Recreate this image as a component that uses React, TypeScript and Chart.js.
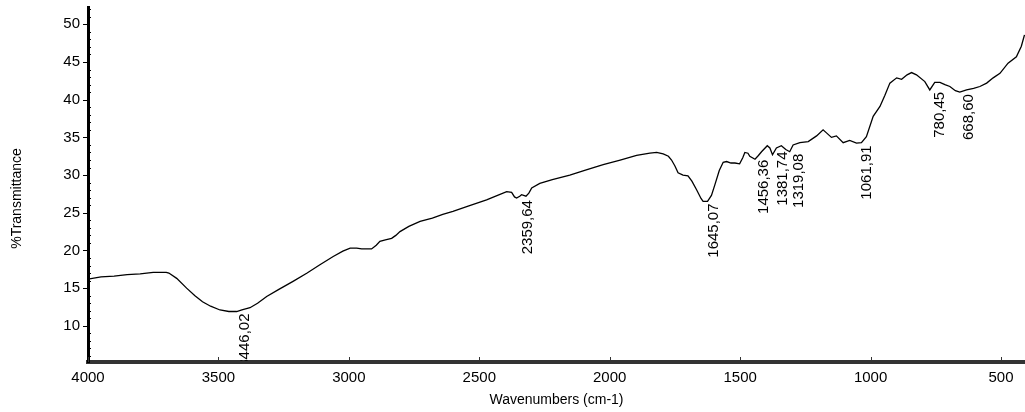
import React, { useEffect, useRef } from 'react';
import { Chart, registerables } from 'chart.js';

Chart.register(...registerables);

const wavenumbers = [
  4000, 3950, 3900, 3850, 3800, 3750, 3720, 3700, 3690, 3660, 3622, 3590, 3561, 3530, 3494, 3460, 3430, 3410,
  3379, 3350, 3315, 3270, 3214, 3160, 3111, 3060, 3023, 2995, 2970, 2951, 2913, 2895, 2881, 2860, 2836, 2820,
  2804, 2770, 2727, 2680, 2640, 2601, 2540, 2472, 2430, 2395, 2376, 2365, 2357, 2345, 2338, 2321, 2310, 2299,
  2268, 2220, 2153, 2090, 2025, 1960, 1897, 1846, 1820, 1795, 1775, 1763, 1750, 1738, 1719, 1700, 1685, 1667,
  1650, 1642, 1625, 1610, 1597, 1580, 1565, 1552, 1535, 1520, 1502, 1490, 1482, 1470, 1463, 1443, 1430, 1418,
  1396, 1386, 1376, 1361, 1342, 1325, 1310, 1297, 1271, 1239, 1207, 1182, 1169, 1150, 1131, 1105, 1080, 1054,
  1035, 1016, 990, 964, 945, 926, 900, 881, 860, 843, 824, 792, 773, 754, 734, 715, 696, 675, 658, 632, 605,
  581, 555, 530, 504, 473, 441, 422, 410,
];

const transmittance = [
  16.2, 16.5, 16.6, 16.8, 16.9, 17.1, 17.1, 17.1, 17.0, 16.3, 15.0, 14.0, 13.2, 12.6, 12.1, 11.9, 11.9, 12.1,
  12.4, 13.0, 13.9, 14.8, 15.9, 17.0, 18.1, 19.2, 19.9, 20.3, 20.3, 20.2, 20.2, 20.7, 21.2, 21.4, 21.6, 22.0,
  22.5, 23.2, 23.85, 24.3, 24.8, 25.2, 25.9, 26.7, 27.3, 27.8, 27.7, 27.1, 26.95, 27.2, 27.4, 27.2, 27.6, 28.3,
  28.9, 29.4, 30.0, 30.7, 31.4, 32.0, 32.6, 32.9, 33.0, 32.8, 32.5, 32.0, 31.2, 30.3, 30.0, 29.9, 29.2, 28.05,
  26.9, 26.5, 26.5, 27.3, 28.7, 30.6, 31.7, 31.8, 31.6, 31.6, 31.5, 32.3, 33.0, 32.9, 32.5, 32.1, 32.6, 33.1,
  33.9, 33.6, 32.7, 33.6, 33.9, 33.4, 33.1, 34.0, 34.3, 34.45, 35.2, 36.0, 35.6, 35.0, 35.2, 34.3, 34.6, 34.25,
  34.3, 35.1, 37.8, 39.1, 40.6, 42.2, 42.9, 42.7, 43.3, 43.6, 43.3, 42.4, 41.3, 42.3, 42.3, 42.0, 41.75, 41.2, 41.0, 41.3, 41.5,
  41.75, 42.2, 42.9, 43.5, 44.85, 45.7, 47.1, 48.6,
];

const xTicks = [4000, 3500, 3000, 2500, 2000, 1500, 1000, 500];
const yTicks = [10, 15, 20, 25, 30, 35, 40, 45, 50];

const peakWavenumbers = [3446.02, 2359.64, 1645.07, 1456.36, 1381.74, 1319.08, 1061.91, 780.45, 668.6];
const peakTransmittance = [11.9, 26.95, 26.5, 32.3, 33.4, 33.1, 34.2, 41.3, 41.0];
const peakLabels = ['3446,02', '2359,64', '1645,07', '1456,36', '1381,74', '1319,08', '1061,91', '780,45', '668,60'];

const xTitle = 'Wavenumbers (cm-1)';
const yTitle = '%Transmittance';

const xMin = 408;
const xMax = 4000;
const yMin = 5.2;
const yMax = 52.3;

const FONT = "'Liberation Sans', Arial, sans-serif";

export default function App() {
  const canvasRef = useRef<HTMLCanvasElement | null>(null);

  useEffect(() => {
    const canvas = canvasRef.current;
    if (!canvas) return;

    const decorPlugin = {
      id: 'decor',
      afterDraw(chart: any) {
        const { ctx, chartArea } = chart;
        const xs = chart.scales.x;
        const ys = chart.scales.y;
        ctx.save();
        ctx.strokeStyle = '#000';
        ctx.lineWidth = 1;
        for (let v = Math.ceil(yMin); v <= Math.floor(yMax); v++) {
          const py = Math.round(ys.getPixelForValue(v)) + 0.5;
          ctx.beginPath();
          if (yTicks.includes(v)) {
            ctx.moveTo(chartArea.left - 5, py);
            ctx.lineTo(chartArea.left + 2, py);
          } else {
            ctx.moveTo(chartArea.left, py);
            ctx.lineTo(chartArea.left + 3, py);
          }
          ctx.stroke();
        }
        ctx.strokeStyle = '#333';
        xTicks.forEach((v) => {
          const px = Math.round(xs.getPixelForValue(v)) + 0.5;
          ctx.beginPath();
          ctx.moveTo(px, chartArea.bottom);
          ctx.lineTo(px, chartArea.bottom - 5);
          ctx.stroke();
        });

        ctx.save();
        ctx.beginPath();
        ctx.rect(chartArea.left, chartArea.top, chartArea.right - chartArea.left, chartArea.bottom - chartArea.top - 1);
        ctx.clip();
        ctx.fillStyle = '#000';
        ctx.font = `15px ${FONT}`;
        ctx.textAlign = 'right';
        ctx.textBaseline = 'middle';
        peakWavenumbers.forEach((wn, i) => {
          const px = xs.getPixelForValue(wn) + 12;
          const py = ys.getPixelForValue(peakTransmittance[i]) + 2;
          ctx.save();
          ctx.translate(px, py);
          ctx.rotate(-Math.PI / 2);
          ctx.fillText(peakLabels[i], 0, 0);
          ctx.restore();
        });
        ctx.restore();

        ctx.fillStyle = '#000';
        ctx.font = `14px ${FONT}`;
        ctx.textAlign = 'center';
        ctx.textBaseline = 'middle';
        ctx.fillText(xTitle, (chartArea.left + chartArea.right) / 2, 400);
        ctx.save();
        ctx.translate(17, (chartArea.top + chartArea.bottom) / 2 + 14);
        ctx.rotate(-Math.PI / 2);
        ctx.fillText(yTitle, 0, 0);
        ctx.restore();
        ctx.restore();
      },
    };

    const chart = new Chart(canvas, {
      type: 'line',
      data: {
        datasets: [
          {
            data: wavenumbers.map((w, i) => ({ x: w, y: transmittance[i] })),
            borderColor: '#000',
            borderWidth: 1.3,
            pointRadius: 0,
            tension: 0,
            fill: false,
          },
        ],
      },
      options: {
        animation: false,
        responsive: false,
        maintainAspectRatio: false,
        layout: { padding: { top: 7, right: 0, left: 0, bottom: 0 } },
        plugins: { legend: { display: false }, tooltip: { enabled: false }, title: { display: false } },
        scales: {
          x: {
            type: 'linear',
            reverse: true,
            min: xMin,
            max: xMax,
            afterBuildTicks: (s: any) => {
              s.ticks = xTicks.map((v) => ({ value: v }));
            },
            afterFit: (s: any) => {
              s.height = 50;
              s.paddingLeft = 0;
              s.paddingRight = 0;
            },
            grid: { display: false, drawTicks: false },
            border: { display: true, color: '#333', width: 4 },
            ticks: {
              color: '#000',
              font: { size: 15, family: FONT },
              padding: 7,
              maxRotation: 0,
              autoSkip: false,
              callback: (v: any) => String(v),
            },
          },
          y: {
            type: 'linear',
            min: yMin,
            max: yMax,
            afterBuildTicks: (s: any) => {
              s.ticks = yTicks.map((v) => ({ value: v }));
            },
            afterFit: (s: any) => {
              s.width = 88;
              s.paddingTop = 0;
              s.paddingBottom = 0;
            },
            grid: { display: false, drawTicks: false },
            border: { display: true, color: '#000', width: 3 },
            ticks: {
              color: '#000',
              font: { size: 15, family: FONT },
              padding: 8,
              autoSkip: false,
              callback: (v: any) => String(v),
            },
          },
        },
      },
      plugins: [decorPlugin],
    });

    return () => chart.destroy();
  }, []);

  return (
    <div style={{ position: 'fixed', left: 0, top: 0, width: 1025, height: 412, background: '#fff' }}>
      <canvas ref={canvasRef} width={1025} height={412} style={{ display: 'block' }} />
    </div>
  );
}
